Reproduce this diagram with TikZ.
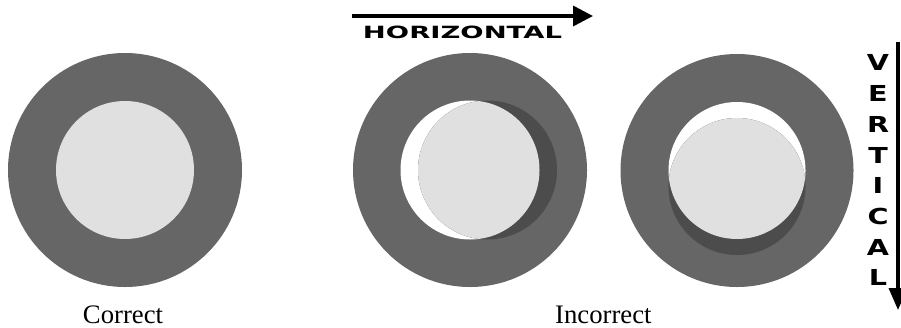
\documentclass[tikz,border=0pt]{standalone}
\usepackage{fontspec}
\setmainfont{Liberation Serif}
\newfontfamily\pixfont{DejaVu Sans}
\usetikzlibrary{arrows.meta}
\definecolor{ringgray}{RGB}{102,102,102}
\definecolor{shadowgray}{RGB}{76,76,76}
\definecolor{lightdisc}{RGB}{224,224,224}
\tikzset{
  ring/.style={fill=ringgray},
  hole/.style={fill=white},
  shadow/.style={fill=shadowgray},
  disc/.style={fill=lightdisc},
  caption/.style={font=\fontsize{26.7}{30}\selectfont, inner sep=0pt},
  dirarrow/.style={line width=3.5pt, -{Triangle[length=20pt,width=20pt]}},
}
\begin{document}
\begin{tikzpicture}[x=1pt,y=-1pt]
\useasboundingbox (0,0) rectangle (901,327);
\clip (0,0) rectangle (901,327);
% correct
\fill[ring] (125,170) circle[radius=117];
\fill[disc] (125,170) circle[radius=69];
% incorrect horizontal
\fill[ring] (470,170) circle[radius=117];
\fill[hole] (470,170) circle[radius=69.5];
\fill[shadow] (487.5,170) circle[radius=69.5];
\begin{scope}
  \clip (470,170) circle[radius=69.5];
  \fill[disc] (487.5,170) circle[radius=69.5];
\end{scope}
% incorrect vertical
\fill[ring] (737,170.5) circle[radius=116.5];
\fill[hole] (737,170.5) circle[radius=68.5];
\fill[shadow] (737,186.5) circle[radius=68.5];
\begin{scope}
  \clip (737,170.5) circle[radius=68.5];
  \fill[disc] (737,186.5) circle[radius=68.5];
\end{scope}
% captions
\node[caption, anchor=base] (correct) at (123,323) {Correct};
\node[caption, anchor=base west] (incorrect) at (555,323) {Incorrect};
% horizontal arrow
\coordinate (hs) at (352,16);
\coordinate (he) at (593,16);
\draw[dirarrow] (hs) -- (he);
\node[inner sep=0pt] (htext) at (462.5,32.3) {\resizebox{199pt}{12.5pt}{\pixfont\bfseries HORIZONTAL}};
% vertical arrow
\coordinate (vs) at (898,42);
\coordinate (ve) at (898,310);
\draw[dirarrow, -{Triangle[length=22pt,width=18pt]}] (vs) -- (ve);
\node[inner sep=0pt] (vtext) at (878,172.3) {\scalebox{1.3}[1]{\pixfont\bfseries\fontsize{22}{30.7}\selectfont\begin{tabular}{@{}c@{}}V\\E\\R\\T\\I\\C\\A\\L\end{tabular}}};
\end{tikzpicture}
\end{document}
